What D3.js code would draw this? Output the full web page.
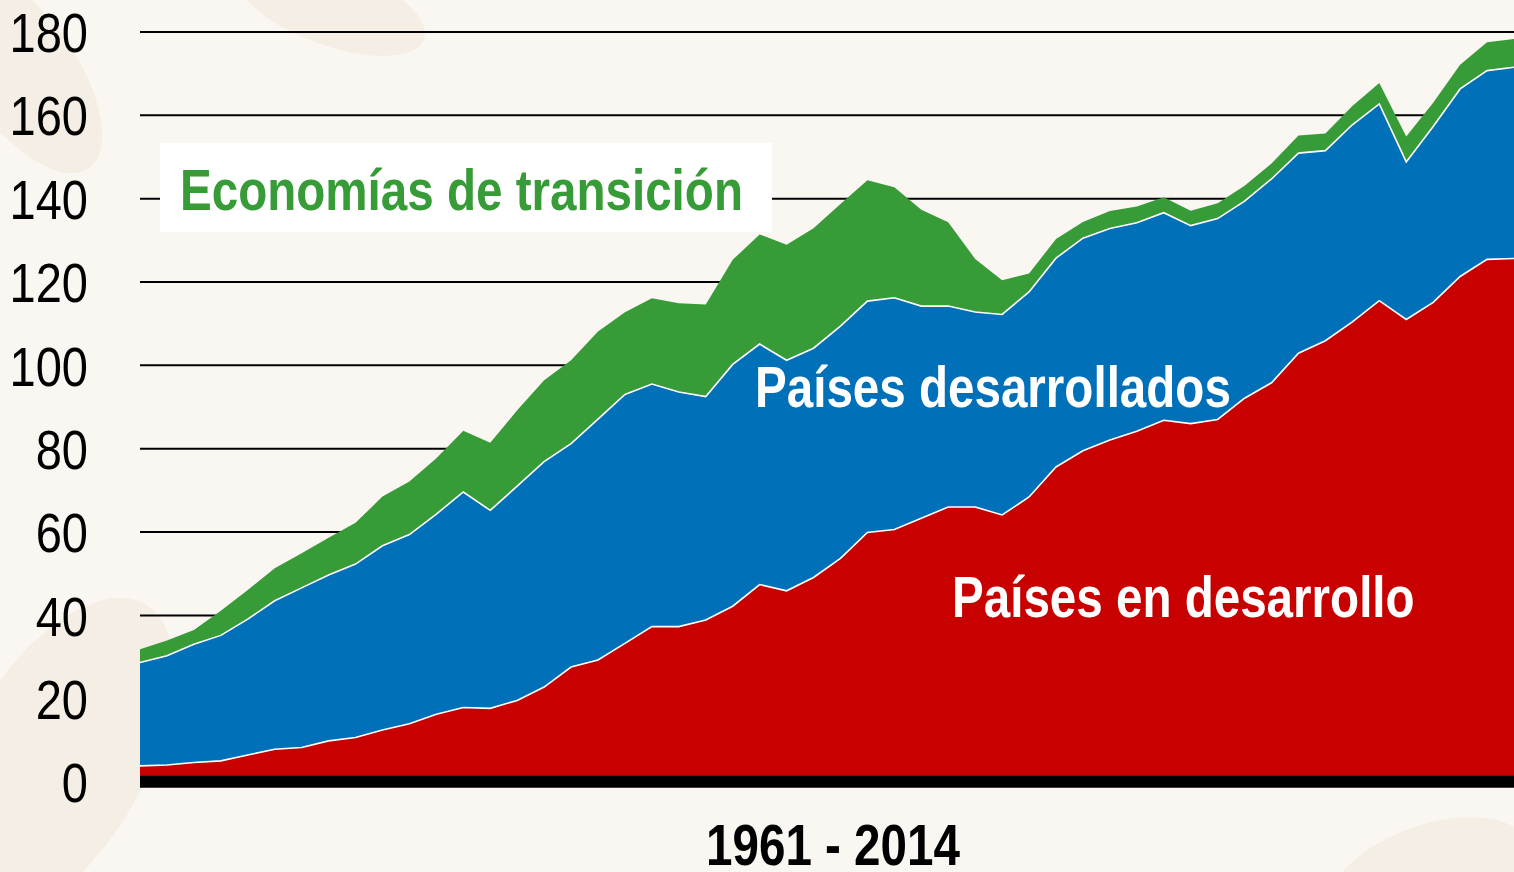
<!DOCTYPE html>
<html>
<head>
<meta charset="utf-8">
<script src="https://cdn.jsdelivr.net/npm/d3@7"></script>
<style>
  body { margin: 0; background: #faf7f2; overflow: hidden; }
  svg { display: block; }
  text { font-family: 'Liberation Sans Narrow', 'Arial Narrow', 'Liberation Sans', Arial, sans-serif; }
</style>
</head>
<body>
<div id="chart"></div>
<script>
var years = [1961, 1962, 1963, 1964, 1965, 1966, 1967, 1968, 1969, 1970,
             1971, 1972, 1973, 1974, 1975, 1976, 1977, 1978, 1979, 1980,
             1981, 1982, 1983, 1984, 1985, 1986, 1987, 1988, 1989, 1990,
             1991, 1992, 1993, 1994, 1995, 1996, 1997, 1998, 1999, 2000,
             2001, 2002, 2003, 2004, 2005, 2006, 2007, 2008, 2009, 2010,
             2011, 2012]

// Países en desarrollo
var developing = [3.8, 4.0, 4.6, 5.0, 6.4, 7.8, 8.2, 9.8, 10.6, 12.4,
                  13.9, 16.2, 17.8, 17.6, 19.5, 22.7, 27.5, 29.2, 33.2, 37.2,
                  37.2, 38.8, 42.1, 47.3, 45.8, 49.0, 53.6, 59.8, 60.5, 63.2,
                  65.9, 65.9, 64.0, 68.3, 75.5, 79.4, 82.0, 84.1, 86.7, 85.9,
                  86.9, 92.0, 95.7, 102.8, 105.8, 110.3, 115.4, 110.9, 115.0, 121.2,
                  125.3, 125.5]

// Países desarrollados
var developed = [24.8, 26.2, 28.4, 30.1, 32.6, 35.6, 38.3, 39.8, 41.6, 44.2,
                 45.4, 48.0, 51.7, 47.5, 51.4, 54.1, 53.6, 57.8, 59.7, 58.2,
                 56.3, 53.6, 58.0, 57.7, 55.3, 55.0, 55.7, 55.5, 55.6, 50.9,
                 48.2, 46.8, 48.1, 49.2, 50.1, 51.0, 50.7, 50.0, 49.8, 47.5,
                 48.2, 47.3, 48.9, 48.0, 45.6, 47.3, 47.2, 37.8, 42.2, 45.0,
                 45.3, 45.9]

// Economías de transición
var transition = [3.2, 3.7, 3.4, 5.9, 7.0, 7.8, 8.3, 8.9, 9.9, 11.8,
                  12.7, 13.4, 14.7, 16.2, 18.2, 19.5, 20.0, 21.0, 19.7, 20.6,
                  21.3, 22.1, 25.1, 26.3, 27.7, 28.8, 29.3, 29.0, 26.5, 23.1,
                  20.1, 12.7, 8.2, 4.4, 4.6, 3.9, 4.2, 3.9, 3.7, 3.6,
                  3.7, 3.7, 3.7, 4.2, 4.1, 4.5, 5.0, 6.1, 5.7, 5.8,
                  6.8, 6.8]

var yTicks = [0, 20, 40, 60, 80, 100, 120, 140, 160, 180]
var seriesKeys   = ['developing', 'developed', 'transition']
var seriesColors = ['#c80000', '#0070b8', '#379b37']

// squeeze text to a narrow face (no Arial Narrow installed)
function narrow(sel, k) {
  sel.each(function() {
    var len = this.getComputedTextLength()
    d3.select(this).attr('textLength', len * k).attr('lengthAdjust', 'spacingAndGlyphs')
  })
}

function buildChart() {
  var W = 1514, H = 872
  var left = 140, right = 1514, top = 31.4, bottom = 781.7

  var svg = d3.select('#chart')
    .append('svg')
      .attr('width', W)
      .attr('height', H)

  svg.append('rect').attr('width', W).attr('height', H).attr('fill', '#faf7f2')

  // faint leaf watermark in the background
  var leaves = [
    [20, 70, 55, 120, -35], [330, 5, 100, 40, 20], [55, 760, 90, 180, 30],
    [1430, 885, 110, 60, -20]
  ]
  svg.selectAll('ellipse.leaf').data(leaves).enter().append('ellipse')
    .attr('class', 'leaf')
    .attr('cx', d => d[0]).attr('cy', d => d[1])
    .attr('rx', d => d[2]).attr('ry', d => d[3])
    .attr('transform', d => 'rotate(' + d[4] + ',' + d[0] + ',' + d[1] + ')')
    .attr('fill', '#f5eee4')

  var table = years.map(function(yr, i) {
    return {year: yr, developing: developing[i], developed: developed[i], transition: transition[i]}
  })

  var x = d3.scaleLinear().domain([years[0], years[years.length - 1]]).range([left, right])
  var y = d3.scaleLinear().domain([0, 180]).range([bottom, top])

  // y axis: labels + grid lines
  var yAxis = svg.append('g')
    .attr('transform', 'translate(' + left + ',0)')
    .call(d3.axisLeft(y).tickValues(yTicks).tickSize(-(right - left)).tickPadding(52))
  yAxis.select('.domain').remove()
  yAxis.selectAll('.tick line').attr('stroke', '#000').attr('stroke-width', 2)
  yAxis.selectAll('.tick').filter(d => d === 0).select('line').remove()
  yAxis.selectAll('.tick text')
    .attr('fill', '#000')
    .style('font-size', '56px')
    .attr('dy', '0.36em')
    .call(narrow, 0.84)

  var stacked = d3.stack().keys(seriesKeys)(table)

  var area = d3.area()
    .x(d => x(d.data.year))
    .y0(d => y(d[0]))
    .y1(d => y(d[1]))

  svg.append('g').selectAll('path')
    .data(stacked)
    .enter().append('path')
      .attr('fill', (d, i) => seriesColors[i])
      .attr('d', area)

  // thin white separators between layers
  var line = d3.line().x(d => x(d.data.year)).y(d => y(d[1]))
  svg.append('g').selectAll('path')
    .data(stacked.slice(0, 2))
    .enter().append('path')
      .attr('fill', 'none')
      .attr('stroke', '#fff')
      .attr('stroke-width', 1.6)
      .attr('d', line)

  // thick base line
  svg.append('line')
    .attr('x1', left).attr('x2', right)
    .attr('y1', y(0)).attr('y2', y(0))
    .attr('stroke', '#000')
    .attr('stroke-width', 12)

  // series labels
  svg.append('rect')
    .attr('x', 160).attr('y', 143).attr('width', 612).attr('height', 89)
    .attr('fill', '#fff')
  svg.append('text')
    .attr('x', 180).attr('y', 210)
    .attr('fill', '#379b37')
    .style('font-size', '58px').style('font-weight', 'bold')
    .text('Economías de transición')
    .call(narrow, 0.82)

  svg.append('text')
    .attr('x', 755).attr('y', 407)
    .attr('fill', '#fff')
    .style('font-size', '58px').style('font-weight', 'bold')
    .text('Países desarrollados')
    .call(narrow, 0.82)

  svg.append('text')
    .attr('x', 952).attr('y', 617)
    .attr('fill', '#fff')
    .style('font-size', '58px').style('font-weight', 'bold')
    .text('Países en desarrollo')
    .call(narrow, 0.82)

  // period label
  svg.append('text')
    .attr('x', 833).attr('y', 865)
    .attr('text-anchor', 'middle')
    .attr('fill', '#000')
    .style('font-size', '58px').style('font-weight', 'bold')
    .text('1961 - 2014')
    .call(narrow, 0.82)
}

buildChart()
</script>
</body>
</html>
